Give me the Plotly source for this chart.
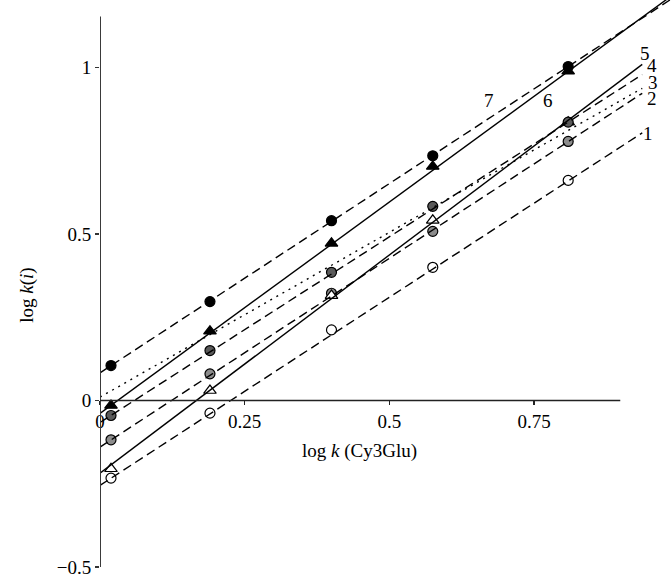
import plotly.graph_objects as go

# ---- data ----
x_points = [0.019, 0.19, 0.40, 0.575, 0.809]
s1_open_circle = [-0.233, -0.038, 0.212, 0.400, 0.661]
s2_gray_circle = [-0.118, 0.080, 0.322, 0.508, 0.778]
s4_dark_circle = [-0.045, 0.150, 0.385, 0.583, 0.836]
s5_open_triangle = [-0.205, 0.030, 0.315, 0.541, 0.836]
s6_filled_triangle = [-0.015, 0.208, 0.472, 0.703, 0.989]
s7_black_circle = [0.105, 0.297, 0.540, 0.735, 1.003]

line_names = ["1", "2", "3", "4", "5", "6", "7"]
line_intercepts = [-0.255, -0.140, 0.010, -0.066, -0.218, -0.039, 0.083]
line_slopes = [1.130, 1.134, 0.990, 1.115, 1.310, 1.270, 1.137]
line_x_end = [0.937, 0.937, 0.937, 0.937, 0.937, 1.0, 1.0]
line_dash = ["9px,5px", "9px,5px", "2px,5px", "9px,5px", "solid", "solid", "9px,5px"]

label_x = [0.947, 0.954, 0.956, 0.954, 0.942, 0.774, 0.672]
label_y = [0.802, 0.907, 0.955, 1.006, 1.042, 0.901, 0.901]

x_ticks = [0, 0.25, 0.5, 0.75]
x_ticktext = ["0", "0.25", "0.5", "0.75"]
y_ticks = [-0.5, 0, 0.5, 1]
y_ticktext = ["\u22120.5", "0", "0.5", "1"]

FONT = "Liberation Serif"
FS = 19

fig = go.Figure()

marker_series = [
    (s1_open_circle, "circle", "white", 10),
    (s2_gray_circle, "circle", "#8c8c8c", 10),
    (s5_open_triangle, "triangle-up", "white", 11),
    (s4_dark_circle, "circle", "#5a5a5a", 10),
    (s6_filled_triangle, "triangle-up", "black", 11),
    (s7_black_circle, "circle", "black", 10),
]
for ys, sym, col, sz in marker_series:
    fig.add_trace(go.Scatter(
        x=x_points, y=ys, mode="markers",
        marker=dict(symbol=sym, color=col, size=sz,
                    line=dict(color="black", width=1.2)),
        showlegend=False, hoverinfo="skip"))

for name, a, b, xe, d in zip(line_names, line_intercepts, line_slopes, line_x_end, line_dash):
    xs = [0.0, xe]
    ys = [a + b * xv for xv in xs]
    fig.add_trace(go.Scatter(
        x=xs, y=ys, mode="lines",
        line=dict(color="black", width=1.4, dash=d),
        showlegend=False, hoverinfo="skip"))

y_min, y_max = -0.5, 1.2027
x_min, x_max = 0.0, 0.9884

annotations = []
for t, lx, ly in zip(line_names, label_x, label_y):
    annotations.append(dict(x=lx, y=ly, xref="x", yref="y", text=t,
                            showarrow=False, xanchor="center", yanchor="middle",
                            font=dict(family=FONT, size=FS, color="black")))
annotations.append(dict(x=0.449, y=-0.152, xref="x", yref="y",
                        text="log <i>k</i> (Cy3Glu)", showarrow=False,
                        xanchor="center", yanchor="middle",
                        font=dict(family=FONT, size=FS, color="black")))
annotations.append(dict(x=-0.128, y=(567 - 295) / 567, xref="paper", yref="paper",
                        text="log <i>k</i>(<i>i</i>)", showarrow=False, textangle=-90,
                        xanchor="center", yanchor="middle",
                        font=dict(family=FONT, size=FS, color="black")))

shapes = [
    dict(type="line", xref="x", yref="y", x0=0, x1=0, y0=-0.5, y1=1.153,
         line=dict(color="#3a3a3a", width=2)),
    dict(type="line", xref="x", yref="y", x0=0, x1=0.899, y0=0, y1=0,
         line=dict(color="#222", width=1.5)),
]

fig.update_layout(
    width=672, height=586,
    margin=dict(l=100, r=0, t=0, b=19),
    plot_bgcolor="white", paper_bgcolor="white",
    font=dict(family=FONT, size=FS, color="black"),
    xaxis=dict(range=[x_min, x_max], showgrid=False, zeroline=False, showline=False,
               anchor="free", position=(0 - y_min) / (y_max - y_min),
               tickmode="array", tickvals=x_ticks, ticktext=x_ticktext,
               ticks="outside", ticklen=4, tickwidth=1.2, tickcolor="#222",
               tickfont=dict(family=FONT, size=FS, color="black")),
    yaxis=dict(range=[y_min, y_max], showgrid=False, zeroline=False, showline=False,
               tickmode="array", tickvals=y_ticks, ticktext=y_ticktext,
               ticks="outside", ticklen=4, tickwidth=1.2, tickcolor="#333",
               tickfont=dict(family=FONT, size=FS, color="black")),
    annotations=annotations,
    shapes=shapes,
)

fig.write_html("out.html",
               config={"displayModeBar": False, "staticPlot": True},
               post_script="document.body.style.margin='0';document.body.style.overflow='hidden';")
